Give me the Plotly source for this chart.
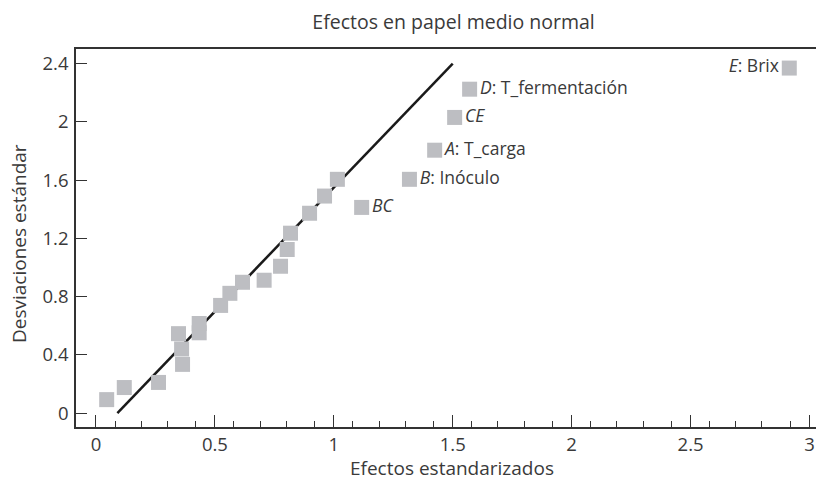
import plotly.graph_objects as go

# Data
effects = [0.045, 0.119, 0.263, 0.364, 0.360, 0.347, 0.434, 0.434, 0.524, 0.563,
           0.616, 0.707, 0.776, 0.804, 0.818, 0.898, 0.961, 1.015, 1.117, 1.318,
           1.424, 1.508, 1.571, 2.915]
devs = [0.092, 0.175, 0.210, 0.334, 0.440, 0.545, 0.551, 0.615, 0.739, 0.822,
        0.898, 0.912, 1.008, 1.123, 1.235, 1.372, 1.490, 1.605, 1.412, 1.605,
        1.805, 2.030, 2.224, 2.369]
labels = [""] * 18 + ["<i>BC</i>", "<i>B</i>: Inóculo", "<i>A</i>: T_carga",
                      "<i>CE</i>", "<i>D</i>: T_fermentación", "<i>E</i>: Brix"]
text_pos = ["middle right"] * 23 + ["middle left"]

line_x = [0.09, 1.5]
line_y = [0.0, 2.4]

x_major = [0, 0.5, 1, 1.5, 2, 2.5, 3]
x_ticklabels = ["0", "0.5", "1", "1.5", "2", "2.5", "3"]
x_minor_offsets = [0.08, 0.19, 0.30, 0.42]
y_ticks = [0, 0.4, 0.8, 1.2, 1.6, 2.0, 2.4]
y_ticklabels = ["0", "0.4", "0.8", "1.2", "1.6", "2", "2.4"]

minor_vals = [m + o for m in x_major for o in x_minor_offsets if m + o < 3.06]

FONT = "Open Sans"
TXT = "#3a3a3a"
AX = "#333333"

# page body has an 8px margin, so the figure is 816x475 to fill 824x483
fig = go.Figure()
fig.add_trace(go.Scatter(x=line_x, y=line_y, mode="lines",
                         line=dict(color="#1a1a1a", width=2.5),
                         hoverinfo="skip", showlegend=False))
fig.add_trace(go.Scatter(x=effects, y=devs, mode="markers+text",
                         marker=dict(symbol="square", size=15, color="#bdbec2",
                                     line=dict(width=0)),
                         text=labels, textposition=text_pos,
                         textfont=dict(family=FONT, size=17.5, color=TXT),
                         showlegend=False, cliponaxis=False))

fig.update_layout(
    width=816, height=475,
    margin=dict(l=68, r=0, t=41, b=56),
    paper_bgcolor="white", plot_bgcolor="white",
    font=dict(family=FONT, size=18, color=TXT),
    title=dict(text="Efectos en papel medio normal", x=0.546, xanchor="center",
               y=0.9705, yanchor="middle", font=dict(family=FONT, size=19.5, color=TXT)),
    annotations=[
        dict(text="Efectos estandarizados", xref="paper", yref="paper",
             x=0.503, y=0, xanchor="center", yanchor="middle", yshift=-41,
             showarrow=False, font=dict(family=FONT, size=19, color=TXT)),
        dict(text="Desviaciones estándar", xref="paper", yref="paper",
             x=0, y=0.484, xanchor="center", yanchor="middle", xshift=-57,
             textangle=-90, showarrow=False,
             font=dict(family=FONT, size=19, color=TXT)),
    ],
)
fig.update_xaxes(
    range=[-0.084, 3.061], showgrid=False, zeroline=False, automargin=False,
    showline=True, linecolor=AX, linewidth=1.5, mirror=True,
    tickmode="array", tickvals=x_major, ticktext=x_ticklabels,
    ticks="inside", ticklen=12, tickwidth=1, tickcolor=AX,
    minor=dict(tickmode="array", tickvals=minor_vals, ticks="inside",
               ticklen=6, tickwidth=1, tickcolor=AX, showgrid=False),
    tickfont=dict(family=FONT, size=18.5, color=TXT),
)
fig.update_yaxes(
    range=[-0.096, 2.5], showgrid=False, zeroline=False, automargin=False,
    showline=True, linecolor=AX, linewidth=1.5,
    tickmode="array", tickvals=y_ticks, ticktext=y_ticklabels,
    ticks="inside", ticklen=11, tickwidth=1, tickcolor=AX,
    ticklabelstandoff=2,
    tickfont=dict(family=FONT, size=18.5, color=TXT),
)

fig.write_html("out.html")
